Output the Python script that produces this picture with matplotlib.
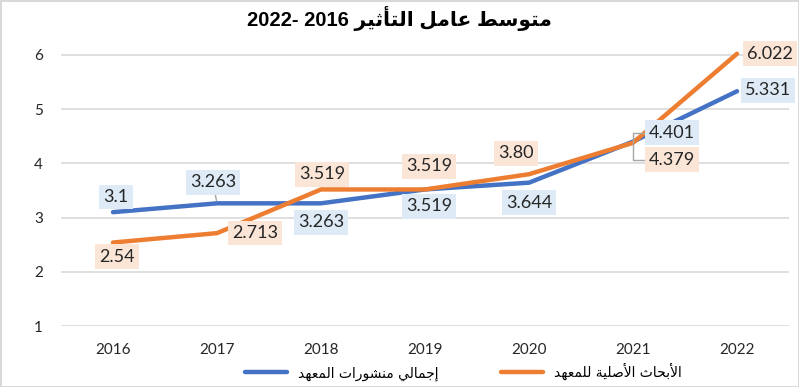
import matplotlib
matplotlib.use('Agg')
import matplotlib.pyplot as plt

# data
years = ['2016', '2017', '2018', '2019', '2020', '2021', '2022']
total_pubs = [3.1, 3.263, 3.263, 3.519, 3.644, 4.401, 5.331]
original_research = [2.54, 2.713, 3.519, 3.519, 3.80, 4.379, 6.022]
total_labels = ['3.1', '3.263', '3.263', '3.519', '3.644', '4.401', '5.331']
original_labels = ['2.54', '2.713', '3.519', '3.519', '3.80', '4.379', '6.022']

title_ar = 'متوسط عامل التأثير'
title_years = '2022- 2016 '
name_total = 'إجمالي منشورات المعهد'
name_original = 'الأبحاث الأصلية للمعهد'

# label offsets in pixels (dx, dy) and which ones get a leader line
total_off = [(3, 15), (-4, 21), (0, -19), (4, -17), (0, -20), (39, 9), (31, 1)]
original_off = [(4, -14), (38, 0), (1, 15), (4, 23), (-13, 21), (39, -17), (33, 0)]
total_leader = [None, 'straight', None, None, None, 'bracket', None]
original_leader = [None, None, None, None, None, 'bracket', None]

# matplotlib has no arabic shaping, so do it by hand with presentation forms
# (iso, fin, ini, med are consecutive code points)
FORMS = {
    'ا': (0xFE8D, 'R'), 'أ': (0xFE83, 'R'), 'إ': (0xFE87, 'R'), 'ب': (0xFE8F, 'D'),
    'ة': (0xFE93, 'R'), 'ت': (0xFE95, 'D'), 'ث': (0xFE99, 'D'), 'ج': (0xFE9D, 'D'),
    'ح': (0xFEA1, 'D'), 'د': (0xFEA9, 'R'), 'ر': (0xFEAD, 'R'), 'س': (0xFEB1, 'D'),
    'ش': (0xFEB5, 'D'), 'ص': (0xFEB9, 'D'), 'ط': (0xFEC1, 'D'), 'ع': (0xFEC9, 'D'),
    'ل': (0xFEDD, 'D'), 'م': (0xFEE1, 'D'), 'ن': (0xFEE5, 'D'), 'ه': (0xFEE9, 'D'),
    'و': (0xFEED, 'R'), 'ي': (0xFEF1, 'D'),
    'لا': (0xFEFB, 'R'), 'لأ': (0xFEF7, 'R'), 'لإ': (0xFEF9, 'R'),
}


def shape(text):
    toks = []
    i = 0
    while i < len(text):
        if text[i:i + 2] in FORMS:
            toks.append(text[i:i + 2])
            i += 2
        else:
            toks.append(text[i])
            i += 1
    out = []
    for k, t in enumerate(toks):
        if t not in FORMS:
            out.append(t)
            continue
        cp, jt = FORMS[t]
        prev = toks[k - 1] if k > 0 else None
        nxt = toks[k + 1] if k + 1 < len(toks) else None
        jp = prev in FORMS and FORMS[prev][1] == 'D'
        jn = jt == 'D' and nxt in FORMS
        form = (3 if jn else 1) if jp else (2 if jn else 0)
        out.append(chr(cp + form))
    return ''.join(reversed(out))


blue = '#4472C4'
orange = '#ED7D31'
blue_fill = '#DEEBF7'
orange_fill = '#FBE5D6'
grid_c = '#D9D9D9'
num_font = ['Lato', 'DejaVu Sans']

fig = plt.figure(figsize=(7.99, 3.87), dpi=100)
fig.patch.set_edgecolor(grid_c)
fig.patch.set_linewidth(2)
ax = fig.add_axes([61 / 799, 61 / 387, 728 / 799, 287.3 / 387])

x = list(range(len(years)))
ax.plot(x, total_pubs, color=blue, lw=3.2, solid_capstyle='round', label=shape(name_total), zorder=3)
ax.plot(x, original_research, color=orange, lw=3.2, solid_capstyle='round', label=shape(name_original), zorder=3)

ax.set_xlim(-0.5, len(years) - 0.5)
ax.set_ylim(1, 6.3)
ax.set_yticks(range(1, 7))
ax.set_xticks(x)
ax.set_xticklabels(years)
ax.yaxis.grid(True, color=grid_c, lw=1.2)
ax.set_axisbelow(True)
for s in ax.spines.values():
    s.set_visible(False)
ax.tick_params(length=0, labelsize=11)
ax.tick_params(axis='x', pad=12)
ax.tick_params(axis='y', pad=13)
for lab in ax.get_xticklabels() + ax.get_yticklabels():
    lab.set_family(num_font)
    lab.set_color('#262626')


def add_labels(vals, labels, offs, leaders, fill):
    for xi, v, lab, off, ld in zip(x, vals, labels, offs, leaders):
        kw = {}
        if ld == 'straight':
            kw['arrowprops'] = dict(arrowstyle='-', color='#A6A6A6', lw=1, shrinkA=0, shrinkB=2)
        elif ld == 'bracket':
            kw['arrowprops'] = dict(arrowstyle='-', color='#A6A6A6', lw=1, shrinkA=0, shrinkB=0,
                                    relpos=(0, 0.5),
                                    connectionstyle='angle,angleA=180,angleB=90,rad=0')
        ax.annotate(lab, (xi, v), xytext=off, textcoords='offset pixels',
                    ha='center', va='center', fontsize=13, family=num_font, color='#262626',
                    bbox=dict(boxstyle='square,pad=0.24', fc=fill, ec='none'),
                    annotation_clip=False, zorder=4, **kw)


add_labels(total_pubs, total_labels, total_off, total_leader, blue_fill)
add_labels(original_research, original_labels, original_off, original_leader, orange_fill)

fig.text(0.5, 1 - 18 / 387, title_years + shape(title_ar), ha='center', va='center',
         fontsize=14.5, fontweight='bold', family=['Liberation Sans', 'DejaVu Sans'])

fig.legend(loc='center', bbox_to_anchor=(0.58, 15 / 387), ncol=2, frameon=False,
           handlelength=3, columnspacing=4.5, prop={'family': 'DejaVu Sans', 'size': 10})

fig.savefig('out.png', dpi=100)
